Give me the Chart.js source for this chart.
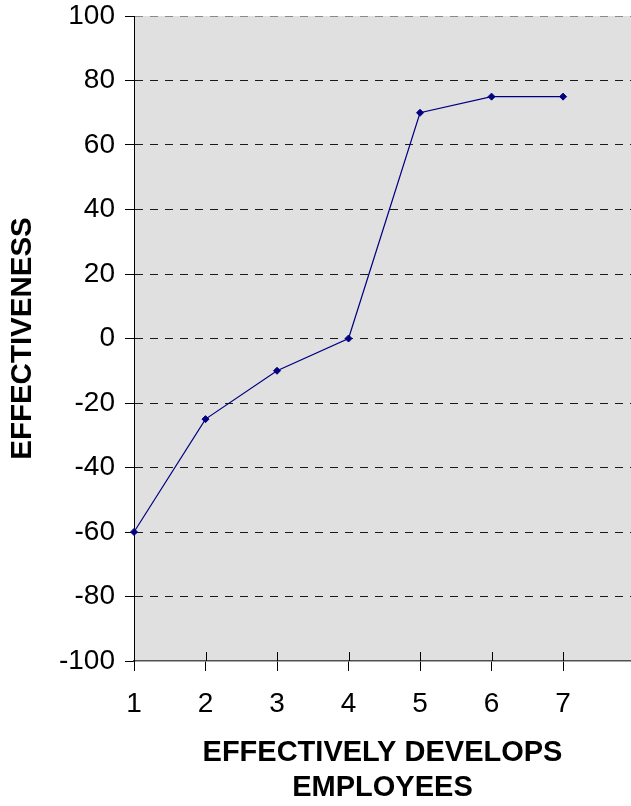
<!DOCTYPE html>
<html>
<head>
<meta charset="utf-8">
<script src="https://cdn.jsdelivr.net/npm/chart.js@4/dist/chart.umd.min.js"></script>
<style>
  html, body { margin: 0; padding: 0; background: #ffffff; }
  #wrap { width: 631px; height: 806px; position: relative; }
</style>
</head>
<body>
<div id="wrap"><canvas id="c" width="631" height="806"></canvas></div>
<script>
// ---- data ----
const xValues = [1, 2, 3, 4, 5, 6, 7];
const effectiveness = [-60, -25, -10, 0, 70, 75, 75];
const xTickValues = [1, 2, 3, 4, 5, 6, 7];
const yTickValues = [-100, -80, -60, -40, -20, 0, 20, 40, 60, 80, 100];
const xTitle = ['EFFECTIVELY DEVELOPS', 'EMPLOYEES'];
const yTitle = 'EFFECTIVENESS';

const FONT = "'Liberation Sans', Arial, sans-serif";

const bgPlugin = {
  id: 'plotBg',
  beforeDraw(chart) {
    const a = chart.chartArea, ctx = chart.ctx;
    ctx.save();
    ctx.fillStyle = '#e0e0e0';
    ctx.fillRect(a.left, a.top, a.right - a.left, a.bottom - a.top);
    ctx.restore();
  },
  afterDraw(chart) {
    // inner half of the x-axis tick marks (they cross the axis)
    const ctx = chart.ctx, xs = chart.scales.x, a = chart.chartArea;
    ctx.save();
    ctx.strokeStyle = '#000000';
    ctx.lineWidth = 1;
    xTickValues.forEach(v => {
      const px = Math.round(xs.getPixelForValue(v)) + 0.5;
      ctx.beginPath();
      ctx.moveTo(px, a.bottom - 9);
      ctx.lineTo(px, a.bottom);
      ctx.stroke();
    });
    ctx.restore();
  }
};

new Chart(document.getElementById('c'), {
  type: 'line',
  data: {
    datasets: [{
      data: xValues.map((x, i) => ({ x: x, y: effectiveness[i] })),
      borderColor: '#000080',
      backgroundColor: '#000080',
      borderWidth: 1.2,
      pointStyle: 'rectRot',
      pointRadius: 3.5,
      pointBorderWidth: 1,
      pointBackgroundColor: '#000080',
      pointBorderColor: '#000080',
      tension: 0,
      fill: false,
      clip: false
    }]
  },
  options: {
    responsive: false,
    animation: false,
    devicePixelRatio: 1,
    layout: { autoPadding: false, padding: { top: 16, right: 0, bottom: 0, left: 0 } },
    plugins: { legend: { display: false }, tooltip: { enabled: false } },
    scales: {
      x: {
        type: 'linear',
        min: 1,
        max: 7.95,
        afterBuildTicks(scale) { scale.ticks = xTickValues.map(v => ({ value: v })); },
        afterFit(scale) {
          scale.height = 145;
          scale.paddingLeft = 0; scale.paddingRight = 0;
        },
        ticks: {
          color: '#000000',
          font: { family: FONT, size: 28 },
          padding: 16,
          maxRotation: 0,
          autoSkip: false,
          callback: v => String(v)
        },
        grid: {
          display: true,
          drawOnChartArea: false,
          drawTicks: true,
          tickLength: 10,
          tickColor: '#000000',
          color: '#000000'
        },
        border: { display: true, color: '#505050', width: 1.5 },
        title: {
          display: true,
          text: xTitle,
          color: '#000000',
          font: { family: FONT, size: 29, weight: 'bold', lineHeight: 1.2 },
          padding: { top: 0, bottom: 1 }
        }
      },
      y: {
        type: 'linear',
        min: -100,
        max: 100,
        afterBuildTicks(scale) { scale.ticks = yTickValues.map(v => ({ value: v })); },
        afterFit(scale) {
          scale.width = 134;
          scale.paddingTop = 0; scale.paddingBottom = 0;
        },
        ticks: {
          color: '#000000',
          font: { family: FONT, size: 28 },
          padding: 10
        },
        grid: {
          display: true,
          drawOnChartArea: true,
          drawTicks: true,
          tickLength: 9,
          tickColor: '#000000',
          tickBorderDash: [],
          tickBorderDashOffset: 0,
          color: ctx => (ctx.tick && ctx.tick.value === 100) ? '#8a8a8a' : (ctx.tick && ctx.tick.value === -100 ? 'rgba(0,0,0,0)' : '#1a1a1a'),
          lineWidth: 1
        },
        border: { display: true, color: '#000000', width: 1, dash: [8, 7], dashOffset: 0 },
        title: {
          display: true,
          text: yTitle,
          color: '#000000',
          font: { family: FONT, size: 29.5, weight: 'bold', lineHeight: 1.2 },
          padding: { top: 5, bottom: 0 }
        }
      }
    }
  },
  plugins: [bgPlugin]
});
</script>
</body>
</html>
